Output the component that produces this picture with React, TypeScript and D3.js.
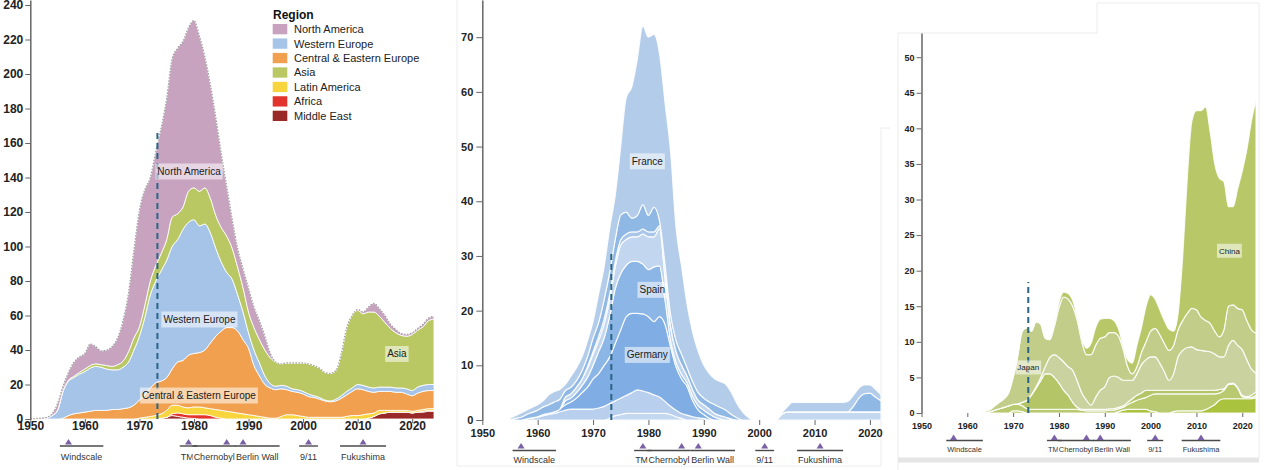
import * as React from 'react';
import * as d3 from 'd3';

const FONT = "'Liberation Sans', Arial, Helvetica, sans-serif";

// ---------- panel 1: reactors by region, 1950-2024 ----------
const regionYears = d3.range(1950, 2025);
const northAmerica = [0, 0.3, 0.5, 0.5, 1, 3.8, 2.7, 4.5, 8.2, 9, 9, 12.5, 10, 8, 9, 11.5, 15.5, 23.5, 34, 51, 67.5, 67, 60, 66, 73, 82, 92, 96, 96, 95, 97, 90, 76, 66, 57, 43, 29, 17, 11, 11, 14, 12, 11, 8, 2.5, 0, 0, 0, 0, 0, 0, 0, 0, 0, 0, 0, 0, 0, 0, 0, 0.5, 1, 3, 5, 4.5, 4, 2.5, 2, 1, 1, 1, 1, 1.5, 1.5, 1.5];
const asia = [0, 0, 0, 0, 0, 0.2, 0.3, 0.5, 0.8, 1, 1.5, 1.5, 1.5, 1.5, 2, 2, 3, 3.5, 6, 7, 5.5, 7, 8, 9, 10, 12, 17, 15, 13, 18, 18.5, 20, 21, 20, 19, 20, 21, 18, 16, 14, 12, 13, 13.5, 15, 15, 14, 12.5, 13.5, 15, 15.5, 16.5, 17.5, 17.5, 17, 16, 16, 16.5, 24.5, 37, 42, 43, 41.5, 43.5, 44, 41, 37.5, 34, 32, 30.5, 30.5, 32.5, 33, 34, 37, 38];
const westernEurope = [0, 0, 0, 0.5, 2, 5, 15.5, 20, 21, 22.5, 23.5, 25, 25.5, 25, 24, 23, 23, 24, 26.5, 32, 37, 45, 54, 59, 64, 68, 71, 71, 76, 77, 77.5, 73.5, 73, 64, 51, 40, 32, 28, 21, 16, 9, 9, 7.5, 5, 2.5, 2, 2, 2, 1.5, 1.5, 1.5, 1.5, 1, 1, 0.5, 0.5, 1, 1.5, 2, 2, 2.5, 2.5, 2.5, 2.5, 2.5, 2.5, 2.5, 2.5, 2.5, 3, 3, 3.5, 3.5, 3.5, 3.5];
const centralEasternEurope = [0, 0, 0, 0, 0, 0, 0.5, 2, 3, 3.5, 4, 4.5, 5, 5, 5, 5.5, 5.5, 6, 6.5, 8, 10.5, 13, 16.5, 19, 19, 19, 21, 25, 27, 30.5, 31, 31.5, 33.5, 38, 42.5, 46, 48.5, 49, 47.5, 43, 38.5, 29, 23.5, 19, 17.5, 16.5, 16, 14.5, 13.5, 13.5, 13, 12, 11.5, 10.5, 9.5, 9, 9.5, 11, 12.5, 14, 15.5, 14.5, 13, 12, 11, 11, 11, 10.5, 10.5, 9.5, 9, 10, 10.5, 10.5, 10.5];
const latinAmerica = [0, 0, 0, 0, 0, 0, 0, 0, 0, 0, 0, 0, 0, 0, 0, 0, 0, 0, 0, 0, 0.5, 1, 1.5, 2, 2.5, 4, 5, 4.5, 4, 4, 4.5, 4.5, 4, 4, 4.5, 4.5, 4.5, 4, 3.5, 3, 2.5, 2, 1.5, 1, 0.5, 0.5, 1.5, 2.5, 2.5, 2, 1.5, 1, 1, 1, 1, 1, 1, 1, 1.5, 2, 2, 2.5, 2.5, 2, 2, 1.5, 1, 1, 1, 1, 1, 1, 1, 1, 1];
const africa = [0, 0, 0, 0, 0, 0, 0, 0, 0, 0, 0, 0, 0, 0, 0, 0, 0, 0, 0, 0, 0, 0, 0, 0, 0, 0, 1, 2, 2, 2, 2.2, 2.5, 2.5, 2, 1, 0.5, 0, 0, 0, 0, 0, 0, 0, 0, 0, 0, 0, 0, 0, 0, 0, 0, 0, 0, 0, 0, 0, 0, 0, 0, 0, 0, 0, 0, 0, 0, 0, 0, 0, 0, 0, 0, 0.5, 0.5, 0.5];
const middleEast = [0, 0, 0, 0, 0, 0, 0, 0, 0, 0, 0, 0, 0, 0, 0, 0, 0, 0, 0, 0, 0, 0, 0, 0, 0.5, 1, 2, 1.5, 1, 0.5, 0.3, 0, 0, 0, 0, 0, 0, 0, 0, 0, 0, 0, 0, 0, 0, 0, 0, 0, 0, 0, 0, 0, 0, 0, 0, 0, 0, 0, 0, 0, 0, 0, 0.5, 1.5, 3, 3.5, 4, 4, 4, 4, 3.5, 4, 4, 4.5, 4.5];
const legendRegions = ['North America', 'Western Europe', 'Central & Eastern Europe', 'Asia', 'Latin America', 'Africa', 'Middle East'];
const regionStack = ['Middle East', 'Africa', 'Latin America', 'Central & Eastern Europe', 'Western Europe', 'Asia', 'North America'];
const regionColors = {
  'North America': '#c7a3c0',
  'Western Europe': '#a5c4e8',
  'Central & Eastern Europe': '#f0a04f',
  'Asia': '#b9c862',
  'Latin America': '#f8d53d',
  'Africa': '#e2342d',
  'Middle East': '#992a27',
};

// ---------- panel 2: Western Europe by country, 1955-2022 ----------
const europeYears = d3.range(1955, 2023);
const finland = [0, 0, 0, 0, 0, 0, 0, 0, 0, 0, 0, 0, 0, 0, 0, 0, 0, 0, 0.3, 0.8, 1, 1.2, 1.2, 1.2, 1.2, 1.2, 1.2, 1.2, 1.2, 1, 0.6, 0.3, 0, 0, 0, 0, 0, 0, 0, 0, 0, 0, 0, 0, 0, 0, 0, 0, 0, 1, 1.5, 1.5, 1.5, 1.5, 1.5, 1.5, 1.5, 1.5, 1.5, 1.5, 1.5, 1.5, 1.5, 1.5, 1.5, 1.5, 1.5, 1.5];
const belgium = [0, 0, 0, 0.2, 0.4, 0.5, 0.8, 1, 1.2, 1.5, 1.8, 2, 2, 2, 2, 2, 2.2, 2.5, 2.7, 2.7, 3, 3.3, 3.8, 4.3, 4.1, 3.8, 3.4, 3, 2.2, 1.5, 1.2, 0.9, 0.9, 0.6, 0.4, 0.3, 0, 0, 0, 0, 0, 0, 0, 0, 0, 0, 0, 0, 0, 0, 0, 0, 0, 0, 0, 0, 0, 0, 0, 0, 0, 0, 0, 0, 0, 0, 0, 0];
const germany = [0, 0, 0, 0, 0, 0.1, 0.2, 0.2, 0.3, 0.5, 1, 1.3, 2, 3, 4, 5.5, 6.3, 7.5, 8.5, 10.5, 12.5, 14.4, 14.5, 14, 14.1, 13.9, 13.4, 14.7, 14.1, 10.9, 7.9, 6.3, 5.2, 2.9, 1.4, 0.7, 0.3, 0, 0, 0, 0, 0, 0, 0, 0, 0, 0, 0, 0, 0, 0, 0, 0, 0, 0, 0, 0, 0, 0, 0, 0, 0, 0, 0, 0, 0, 0, 0];
const spain = [0, 0, 0, 0, 0, 0, 0, 0, 0, 0, 0.7, 0.7, 1, 1.3, 1.8, 2.5, 4, 5, 7.5, 10, 10.3, 9.4, 9.5, 9.5, 9.1, 8.6, 10, 9.3, 4.5, 1.1, 0.8, 0.8, 0.7, 0.8, 0.8, 0.8, 0.8, 0.5, 0.2, 0, 0, 0, 0, 0, 0, 0, 0, 0, 0, 0, 0, 0, 0, 0, 0, 0, 0, 0, 0, 0, 0, 0, 0, 0, 0, 0, 0, 0];
const sweden = [0, 0, 0, 0, 0, 0, 0, 0, 0, 0, 0.7, 0.8, 1, 1.2, 1.7, 2, 2, 2.5, 3, 4, 5.2, 4.7, 4.5, 4.5, 5.5, 6, 5.5, 6.8, 4, 2.5, 2, 1.7, 1.2, 1.2, 1, 1, 0.9, 0.7, 0.6, 0.5, 0.2, 0, 0, 0, 0, 0, 0, 0, 0, 0, 0, 0, 0, 0, 0, 0, 0, 0, 0, 0, 0, 0, 0, 0, 0, 0, 0, 0];
const switzerland = [0, 0, 0, 0, 0, 0, 0, 0, 0, 0, 0, 0, 0, 0, 0.3, 0.5, 0.8, 1, 1, 1, 1, 1, 0.9, 0.9, 0.9, 0.9, 0.9, 0.5, 0.5, 0.3, 0, 0, 0, 0, 0, 0, 0, 0, 0, 0, 0, 0, 0, 0, 0, 0, 0, 0, 0, 0, 0, 0, 0, 0, 0, 0, 0, 0, 0, 0, 0, 0, 0, 0, 0, 0, 0, 0];
const unitedKingdom = [0, 0.3, 0.5, 0.8, 1, 1.2, 1.4, 1.6, 1.8, 1.8, 1.2, 1.2, 1.2, 1.5, 1.8, 2.5, 2.5, 3.5, 4, 4, 4.5, 4, 2.5, 3, 4.5, 3, 4.5, 1, 2, 2, 2, 2, 1.5, 1.5, 1.4, 1.2, 1.3, 1.6, 1.5, 1.3, 0.8, 0.4, 0, 0, 0, 0, 0, 0, 0, 0, 0, 0, 0, 0, 0, 0, 0, 0, 0, 0, 0, 0, 1, 2.5, 3.3, 3.4, 2.7, 2];
const france = [0.3, 0.5, 0.8, 0.8, 0.9, 1, 1.1, 1.8, 1.9, 1.8, 1.1, 2, 2.3, 2.5, 2.9, 3, 5.2, 6, 8, 8, 12.5, 21, 24, 28.6, 32.6, 32.6, 31.6, 30.5, 29.5, 29.7, 20.5, 16, 11.5, 9, 7.5, 6, 5.2, 4.7, 4.7, 4.7, 4, 2.6, 1.5, 0.5, 0, 0, 0, 0, 0, 0.2, 0.8, 1.7, 1.7, 1.7, 1.7, 1.7, 1.7, 1.7, 1.7, 1.7, 1.7, 1.9, 2, 1.8, 1.6, 1.5, 1.4, 1.1];
const europeStack = ['Finland', 'Belgium', 'Germany', 'Spain', 'Sweden', 'Switzerland', 'United Kingdom', 'France'];
const europeColors = ['#c4d8f0', '#b8cfed', '#80ade3', '#8cb6e6', '#c2d6ef', '#a9c6ea', '#90b8e5', '#b3cce9'];

// ---------- panel 3: Asia by country, 1962-2023 ----------
const asiaYears = d3.range(1962, 2024);
const pakistan = [0, 0, 0, 0, 0, 0, 0, 0, 0.3, 0.3, 0.2, 0, 0, 0, 0, 0, 0, 0, 0, 0, 0, 0, 0, 0, 0, 0, 0, 0, 0, 0, 0, 0.2, 0.4, 0.5, 0.5, 0.5, 0.5, 0.5, 0.3, 0.2, 0, 0, 0, 0.2, 0.3, 0.3, 0.3, 0.3, 0.3, 0.3, 0.5, 0.8, 1.2, 1.8, 2, 2, 2, 2, 2, 2, 2, 2.2];
const india = [0, 0, 0.1, 0.2, 0.4, 0.6, 0.8, 1, 0.9, 0.9, 0.8, 0.6, 0.5, 0.5, 0.5, 0.5, 0.5, 0.5, 0.5, 0.5, 0.5, 0.5, 0.5, 0.4, 0.3, 0.3, 0.3, 0.3, 0.3, 0.4, 0.4, 0.4, 0.4, 0.7, 1, 1.3, 1.5, 1.7, 2.2, 2.5, 2.7, 2.7, 2.7, 2.5, 2.4, 2.4, 2.4, 2.4, 2.4, 2.4, 2.2, 1.9, 1.5, 1, 1.2, 2, 2.1, 1.5, 0.3, 0.2, 0.2, 0.3];
const taiwan = [0, 0, 0, 0, 0, 0, 0, 0, 0, 0.1, 0.5, 1.2, 2, 3, 4, 5, 5, 4.5, 3.7, 2.7, 2, 1, 0.3, 0.1, 0.2, 0.2, 0.2, 0.2, 0.2, 0.2, 0.2, 0.2, 0.2, 0.3, 0.5, 0.7, 0.8, 1, 0.7, 0.5, 0.5, 0.5, 0.5, 0.5, 0.5, 0.5, 0.5, 0.5, 0.5, 0.5, 0.5, 0.5, 0.5, 0.5, 0.2, 0.1, 0.1, 0.1, 0.2, 0.1, 0.3, 0.5];
const southKorea = [0, 0, 0, 0, 0, 0, 0, 0, 0, 0, 0, 0, 0.1, 0.2, 0.5, 1, 2.3, 3.2, 3.6, 4, 4, 4.5, 3.7, 2.3, 1.3, 0.6, 1.7, 2.7, 3.2, 4.4, 4.6, 4.2, 3.6, 3.1, 2.6, 3, 4, 4.3, 4.7, 4.7, 3.8, 2.6, 1.4, 2.3, 4.7, 5.6, 6, 6.1, 5.7, 5.6, 5.5, 5.4, 5.1, 4.6, 4.5, 5.4, 6, 5.9, 6.4, 5.2, 3.7, 2.6];
const japan = [0, 0.1, 0.2, 0.3, 0.6, 0.9, 1.2, 1.8, 3.8, 6.7, 10, 10.2, 8.9, 9.1, 7.5, 4, 2.5, 4, 7, 9.1, 9.5, 9, 8.5, 7.2, 6.4, 7.1, 7.3, 7.3, 7, 6.3, 6.1, 5.8, 4.4, 1.9, 0.9, 1, 1.7, 2.5, 3.6, 4, 4, 4, 4.2, 4, 3.8, 4.2, 4.8, 5.4, 5.6, 4.7, 4.3, 4, 3.2, 2.8, 3.8, 5.5, 5, 5.2, 5.6, 5.5, 5.5, 5.6];
const china = [0, 0, 0, 0, 0, 0, 0, 0, 0, 0, 0, 0, 0, 0, 0, 0, 0, 0.2, 0.7, 0.7, 0.8, 0.8, 0.5, 0.5, 0.9, 1.6, 2.5, 2.7, 2.6, 2, 1.7, 1, 0.5, 1, 1.5, 3, 3.5, 5, 5.1, 4.1, 3.5, 3.2, 3, 2, 2.3, 9, 19, 26.3, 28, 29, 30, 26.9, 23.5, 22.3, 20.8, 14, 13.8, 16.8, 19.5, 24, 29.3, 32.8];
const asiaStack = ['Pakistan', 'India', 'Taiwan', 'South Korea', 'Japan', 'China'];
const asiaColors = ['#a9c33f', '#b9c970', '#b3c567', '#cad3a0', '#c1cd88', '#b8c767'];

// ---------- shared annotations ----------
const eventNames = ['Windscale', 'TMI', 'Chernobyl', 'Berlin Wall', '9/11', 'Fukushima'];
const eventYears = [1957, 1979, 1986, 1989, 2001, 2011];
const eventLabelShift = [2.4, 0, -2.3, 2.6, 0, 0];
const markerYear = 1973.3;

const p1Labels = ['North America', 'Western Europe', 'Central & Eastern Europe', 'Asia'];
const p1LabelAt = [[1979.1, 143.5], [1981, 57.7], [1980.9, 13.6], [2017.2, 37.7]];
const p2Labels = ['France', 'Spain', 'Germany'];
const p2LabelAt = [[1979.8, 47.3], [1980.7, 23.8], [1979.8, 11.9]];
const p3Labels = ['Japan', 'China'];
const p3LabelAt = [[1973.3, 6.4], [2017.2, 22.8]];

const panels = [
  {
    years: regionYears, keys: regionStack,
    series: [middleEast, africa, latinAmerica, centralEasternEurope, westernEurope, asia, northAmerica],
    colors: regionStack.map(k => regionColors[k]),
    xDomain: [1950, 2024], xRange: [30.3, 434],
    yDomain: [0, 242.9], yRange: [419, 0], yTicks: d3.range(0, 241, 20),
    tickFont: 12, yTickLen: 5, yTickPad: 2, xTickLen: 4, xTickPad: -2,
    stroke: 1, outline: true, markerTop: 167,
    labels: p1Labels, labelAt: p1LabelAt, labelFont: 10,
    row: { tri: 442, line: 446, label: 457, font: 9 },
  },
  {
    years: europeYears, keys: europeStack,
    series: [finland, belgium, germany, spain, sweden, switzerland, unitedKingdom, france],
    colors: europeColors,
    xDomain: [1950, 2022], xRange: [482.3, 881],
    yDomain: [0, 76.8], yRange: [420, 0], yTicks: d3.range(0, 71, 10),
    tickFont: 11, yTickLen: 6, yTickPad: 3, xTickLen: 5, xTickPad: 4,
    stroke: 1.2, outline: false, markerTop: 30.5,
    labels: p2Labels, labelAt: p2LabelAt, labelFont: 10,
    row: { tri: 446, line: 450.5, label: 460, font: 9 },
  },
  {
    years: asiaYears, keys: asiaStack,
    series: [pakistan, india, taiwan, southKorea, japan, china],
    colors: asiaColors,
    xDomain: [1950, 2023], xRange: [921.5, 1256],
    yDomain: [0, 53.4], yRange: [413, 33], yTicks: d3.range(0, 51, 5),
    tickFont: 9, yTickLen: 5, yTickPad: 2, xTickLen: 4, xTickPad: 6,
    stroke: 1.2, outline: false, markerTop: 18.4,
    labels: p3Labels, labelAt: p3LabelAt, labelFont: 8,
    row: { tri: 437.5, line: 440.5, label: 449, font: 7.5 },
  },
];

function drawPanel(svg: any, p: any) {
  const x = d3.scaleLinear().domain(p.xDomain).range(p.xRange);
  const y = d3.scaleLinear().domain(p.yDomain).range(p.yRange);
  const g = svg.append('g');

  const rows = p.years.map((yr: number, i: number) => {
    const r: any = { year: yr };
    p.keys.forEach((k: string, j: number) => { r[k] = p.series[j][i]; });
    return r;
  });
  const layers = d3.stack().keys(p.keys)(rows);
  const area = d3.area<any>()
    .x(d => x(d.data.year))
    .y0(d => y(d[0]))
    .y1(d => y(d[1]))
    .curve(d3.curveMonotoneX);

  g.selectAll('path.layer')
    .data(layers)
    .enter()
    .append('path')
    .attr('class', 'layer')
    .attr('d', area)
    .attr('fill', (d: any, i: number) => p.colors[i])
    .attr('stroke', '#fff')
    .attr('stroke-opacity', 0.85)
    .attr('stroke-width', p.stroke);

  if (p.outline) {
    const top = d3.line<any>().x(d => x(d.data.year)).y(d => y(d[1])).curve(d3.curveMonotoneX);
    g.append('path')
      .attr('d', top(layers[layers.length - 1]))
      .attr('fill', 'none')
      .attr('stroke', '#9c9c9c')
      .attr('stroke-width', 1.2)
      .attr('stroke-dasharray', '1.5,1.5');
  }

  // y axis
  const ya = g.append('g')
    .attr('transform', 'translate(' + p.xRange[0] + ',0)')
    .call(d3.axisLeft(y).tickValues(p.yTicks).tickSize(p.yTickLen).tickSizeOuter(0).tickPadding(p.yTickPad));
  ya.attr('font-family', FONT).attr('font-size', p.tickFont);
  ya.select('.domain').attr('stroke', '#666').attr('stroke-width', 1.5);
  ya.selectAll('.tick line').attr('stroke', '#666');
  ya.selectAll('.tick text').attr('fill', '#222').attr('font-weight', 'bold');

  // x axis
  const xa = g.append('g')
    .attr('transform', 'translate(0,' + p.yRange[0] + ')')
    .call(d3.axisBottom(x).tickValues(d3.range(1950, 2021, 10)).tickFormat(d3.format('d'))
      .tickSize(p.xTickLen).tickSizeOuter(0).tickPadding(p.xTickPad));
  xa.attr('font-family', FONT).attr('font-size', p.tickFont);
  xa.select('.domain').remove();
  xa.selectAll('.tick line').attr('stroke', '#666');
  xa.selectAll('.tick text').attr('fill', '#222').attr('font-weight', 'bold');

  // dashed marker
  g.append('line')
    .attr('x1', x(markerYear)).attr('x2', x(markerYear))
    .attr('y1', y(0)).attr('y2', y(p.markerTop))
    .attr('stroke', '#2a6486')
    .attr('stroke-width', 2)
    .attr('stroke-dasharray', '6,4');

  // area labels
  p.labels.forEach((name: string, i: number) => {
    const lg = g.append('g');
    const bg = lg.append('rect');
    const t = lg.append('text')
      .attr('x', x(p.labelAt[i][0]))
      .attr('y', y(p.labelAt[i][1]))
      .attr('dy', '0.35em')
      .attr('text-anchor', 'middle')
      .attr('font-family', FONT)
      .attr('font-size', p.labelFont)
      .attr('fill', '#1a1a1a')
      .text(name);
    const w = (t.node() as SVGTextElement).getComputedTextLength();
    const h = p.labelFont + 6;
    bg.attr('x', x(p.labelAt[i][0]) - w / 2 - 2)
      .attr('y', y(p.labelAt[i][1]) - h / 2)
      .attr('width', w + 4)
      .attr('height', h)
      .attr('fill', '#fff')
      .attr('fill-opacity', 0.55);
  });

  // event row
  const row = p.row;
  const lines = g.append('g');
  const marks = g.append('g');
  eventNames.forEach((name, i) => {
    const cx = x(eventYears[i] + eventLabelShift[i]);
    const eg = g.append('g');
    const bg = eg.append('rect');
    const t = eg.append('text')
      .attr('x', cx)
      .attr('y', row.label)
      .attr('dy', '0.35em')
      .attr('text-anchor', 'middle')
      .attr('font-family', FONT)
      .attr('font-size', row.font)
      .attr('fill', '#333')
      .text(name);
    const w = (t.node() as SVGTextElement).getComputedTextLength();
    bg.attr('x', cx - w / 2 - 1).attr('y', row.label - row.font / 2 - 1)
      .attr('width', w + 2).attr('height', row.font + 2).attr('fill', '#fff');
    lines.append('line')
      .attr('x1', cx - w / 2 - 1).attr('x2', cx + w / 2 + 1)
      .attr('y1', row.line).attr('y2', row.line)
      .attr('stroke', '#4a4a4a').attr('stroke-width', 1.4);
    const ex = x(eventYears[i]);
    marks.append('path')
      .attr('d', 'M' + (ex - 3.5) + ',' + (row.tri + 2.5) + 'L' + (ex + 3.5) + ',' + (row.tri + 2.5) + 'L' + ex + ',' + (row.tri - 3) + 'Z')
      .attr('fill', '#7a60a6');
  });
}

function drawFrames(svg: any) {
  const f = svg.append('g').attr('fill', 'none').attr('stroke', '#ececec').attr('stroke-width', 1);
  f.append('line').attr('x1', 457).attr('x2', 457).attr('y1', 0).attr('y2', 466);
  f.append('line').attr('x1', 457).attr('x2', 881).attr('y1', 466).attr('y2', 466);
  f.append('line').attr('x1', 881).attr('x2', 881).attr('y1', 128).attr('y2', 466);
  f.append('line').attr('x1', 881).attr('x2', 890).attr('y1', 128).attr('y2', 128);
  f.append('line').attr('x1', 898).attr('x2', 898).attr('y1', 33).attr('y2', 470);
  f.append('line').attr('x1', 898).attr('x2', 1097).attr('y1', 33).attr('y2', 33);
  f.append('line').attr('x1', 1097).attr('x2', 1097).attr('y1', 3).attr('y2', 33);
  f.append('line').attr('x1', 1097).attr('x2', 1259).attr('y1', 3).attr('y2', 3);
  f.append('line').attr('x1', 1259).attr('x2', 1259).attr('y1', 3).attr('y2', 458);
  svg.append('rect').attr('x', 898).attr('y', 457.5).attr('width', 361).attr('height', 5).attr('fill', '#e6e6e6');
}

function drawLegend(svg: any) {
  const lg = svg.append('g').attr('transform', 'translate(272,0)').attr('font-family', FONT);
  lg.append('text').attr('x', 1).attr('y', 19).attr('font-size', 12).attr('font-weight', 'bold').attr('fill', '#111').text('Region');
  legendRegions.forEach((k, i) => {
    lg.append('rect')
      .attr('x', 0.7).attr('y', 24 + i * 14.45)
      .attr('width', 14.6).attr('height', 10.3)
      .attr('fill', regionColors[k]);
    lg.append('text')
      .attr('x', 22).attr('y', 29.2 + i * 14.45)
      .attr('dy', '0.35em')
      .attr('font-size', 11)
      .attr('fill', '#222')
      .text(k);
  });
}

export default function App() {
  const ref = React.useRef<SVGSVGElement>(null);

  React.useEffect(() => {
    const svg = d3.select(ref.current);
    svg.selectAll('*').remove();
    drawFrames(svg);
    panels.forEach(p => drawPanel(svg, p));
    drawLegend(svg);
  }, []);

  return (
    <div style={{ position: 'absolute', left: 0, top: 0, width: 1280, height: 470, background: '#fff' }}>
      <svg ref={ref} width={1280} height={470} style={{ display: 'block', fontFamily: FONT }} />
    </div>
  );
}
